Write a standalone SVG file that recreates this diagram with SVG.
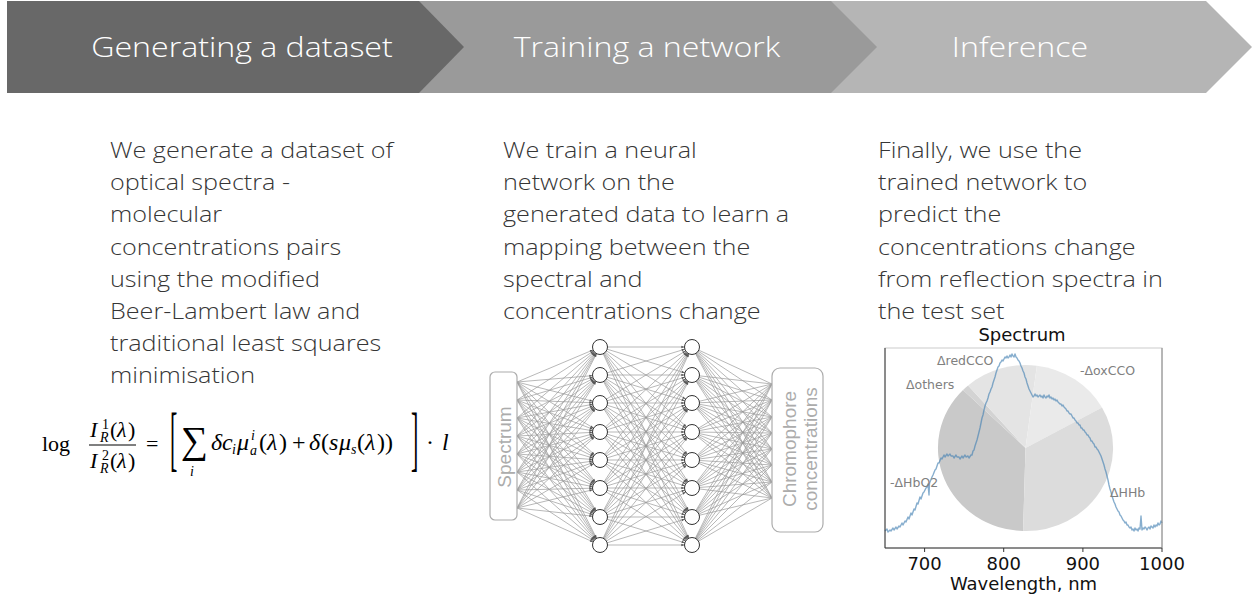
<svg xmlns="http://www.w3.org/2000/svg" width="1252" height="598" viewBox="0 0 1252 598">
<style>
.hdr{font-family:"Open Sans",sans-serif;font-weight:300;font-size:27px;fill:#ffffff;text-anchor:middle}
.body{font-family:"Open Sans",sans-serif;font-weight:300;font-size:22px;fill:#363636}
.m{font-family:"Liberation Serif",serif;font-size:24px;fill:#000}
.mi{font-family:"Liberation Serif",serif;font-size:24px;font-style:italic;fill:#000}
.ms{font-family:"Liberation Serif",serif;font-size:14px;fill:#000}
.msi{font-family:"Liberation Serif",serif;font-size:14px;font-style:italic;fill:#000}
.nn{font-family:"Liberation Sans",sans-serif;font-size:19px;fill:#acacac;text-anchor:middle}
.box{fill:#ffffff;stroke:#acacac;stroke-width:1.2}
.node{fill:#ffffff;stroke:#333333;stroke-width:1}
.ea path{stroke:#9a9a9a;stroke-width:0.7;fill:none;marker-end:url(#ah)}
.ec path{stroke:#9a9a9a;stroke-width:0.7;fill:none}
.pl{font-family:"DejaVu Sans",sans-serif;font-size:12.5px;fill:#808080}
.ax{font-family:"DejaVu Sans",sans-serif;font-size:18px;fill:#111}
</style>
<defs>
<marker id="ah" markerUnits="userSpaceOnUse" markerWidth="10" markerHeight="10" refX="7.5" refY="0" orient="auto" overflow="visible">
<path d="M-3.2,-1.2 L0,0 L-3.2,1.2 z" fill="#555555"/>
</marker>
</defs>
<rect x="0" y="0" width="1252" height="598" fill="#ffffff"/>

<g id="header">
<g id="step-inference">
<polygon points="780,1 1206,1 1252,47 1206,93 780,93" fill="#b5b5b5"/>
<text class="hdr" transform="translate(1020,57) scale(1.19,1)" x="0" y="0">Inference</text>
</g>
<g id="step-training">
<polygon points="419,1 831,1 877,47 831,93 419,93" fill="#9a9a9a"/>
<text class="hdr" transform="translate(647,57) scale(1.19,1)" x="0" y="0">Training a network</text>
</g>
<g id="step-generating">
<polygon points="7,1 419,1 464,47 419,93 7,93" fill="#686868"/>
<text class="hdr" transform="translate(242,57) scale(1.19,1)" x="0" y="0">Generating a dataset</text>
</g>
</g>

<g id="text-generating" transform="translate(110,0) scale(1.145,1)">
<text class="body" x="0" y="158">We generate a dataset of</text>
<text class="body" x="0" y="190">optical spectra -</text>
<text class="body" x="0" y="222">molecular</text>
<text class="body" x="0" y="255">concentrations pairs</text>
<text class="body" x="0" y="287">using the modified</text>
<text class="body" x="0" y="319">Beer-Lambert law and</text>
<text class="body" x="0" y="351">traditional least squares</text>
<text class="body" x="0" y="383">minimisation</text>
</g>
<g id="text-training" transform="translate(503,0) scale(1.145,1)">
<text class="body" x="0" y="158">We train a neural</text>
<text class="body" x="0" y="190">network on the</text>
<text class="body" x="0" y="222">generated data to learn a</text>
<text class="body" x="0" y="255">mapping between the</text>
<text class="body" x="0" y="287">spectral and</text>
<text class="body" x="0" y="319">concentrations change</text>
</g>
<g id="text-inference" transform="translate(878,0) scale(1.145,1)">
<text class="body" x="0" y="158">Finally, we use the</text>
<text class="body" x="0" y="190">trained network to</text>
<text class="body" x="0" y="222">predict the</text>
<text class="body" x="0" y="255">concentrations change</text>
<text class="body" x="0" y="287">from reflection spectra in</text>
<text class="body" x="0" y="319">the test set</text>
</g>

<g id="formula">
<text class="m" x="42" y="451" style="font-size:22px">log</text>
<text class="mi" x="90" y="437" style="font-size:22px">I</text>
<text class="ms" x="102" y="429">1</text>
<text class="msi" x="100" y="442">R</text>
<text class="m" x="110" y="437" style="font-size:22px">(</text>
<text class="mi" x="117" y="437" style="font-size:22px">λ</text>
<text class="m" x="128" y="437" style="font-size:22px">)</text>
<line x1="89" y1="445" x2="136" y2="445" stroke="#000" stroke-width="1"/>
<text class="mi" x="90" y="468" style="font-size:22px">I</text>
<text class="ms" x="102" y="460">2</text>
<text class="msi" x="100" y="473">R</text>
<text class="m" x="110" y="468" style="font-size:22px">(</text>
<text class="mi" x="117" y="468" style="font-size:22px">λ</text>
<text class="m" x="128" y="468" style="font-size:22px">)</text>
<text class="m" x="146" y="451" style="font-size:22px">=</text>
<text class="m" transform="translate(170,0) scale(1,3.3)" x="0" y="140" style="font-size:22px">[</text>
<text class="m" x="181" y="453" style="font-size:38px">∑</text>
<text class="msi" x="190" y="476">i</text>
<text class="mi" x="211" y="450">δ</text>
<text class="mi" x="222" y="450">c</text>
<text class="msi" x="232" y="454">i</text>
<text class="mi" x="237" y="450">μ</text>
<text class="msi" x="251" y="440">i</text>
<text class="msi" x="250" y="455">a</text>
<text class="m" x="259" y="450">(</text>
<text class="mi" x="267" y="450">λ</text>
<text class="m" x="279" y="450">)</text>
<text class="m" x="292" y="450">+</text>
<text class="mi" x="309" y="450">δ</text>
<text class="m" x="321" y="450">(</text>
<text class="mi" x="329" y="450">s</text>
<text class="mi" x="339" y="450">μ</text>
<text class="msi" x="351" y="454">s</text>
<text class="m" x="357" y="450">(</text>
<text class="mi" x="365" y="450">λ</text>
<text class="m" x="377" y="450">)</text>
<text class="m" x="385" y="450">)</text>
<text class="m" transform="translate(411,0) scale(1,3.3)" x="0" y="140" style="font-size:22px">]</text>
<text class="m" x="426" y="450">·</text>
<text class="mi" x="442" y="450">l</text>
</g>

<g id="connectors">
<g class="ea">
<path d="M517 382L600 347"/><path d="M517 382L600 375"/><path d="M517 382L600 403"/><path d="M517 382L600 432"/><path d="M517 382L600 460"/><path d="M517 382L600 488"/><path d="M517 382L600 517"/><path d="M517 382L600 545"/>
<path d="M517 400L600 347"/><path d="M517 400L600 375"/><path d="M517 400L600 403"/><path d="M517 400L600 432"/><path d="M517 400L600 460"/><path d="M517 400L600 488"/><path d="M517 400L600 517"/><path d="M517 400L600 545"/>
<path d="M517 418L600 347"/><path d="M517 418L600 375"/><path d="M517 418L600 403"/><path d="M517 418L600 432"/><path d="M517 418L600 460"/><path d="M517 418L600 488"/><path d="M517 418L600 517"/><path d="M517 418L600 545"/>
<path d="M517 436L600 347"/><path d="M517 436L600 375"/><path d="M517 436L600 403"/><path d="M517 436L600 432"/><path d="M517 436L600 460"/><path d="M517 436L600 488"/><path d="M517 436L600 517"/><path d="M517 436L600 545"/>
<path d="M517 454L600 347"/><path d="M517 454L600 375"/><path d="M517 454L600 403"/><path d="M517 454L600 432"/><path d="M517 454L600 460"/><path d="M517 454L600 488"/><path d="M517 454L600 517"/><path d="M517 454L600 545"/>
<path d="M517 472L600 347"/><path d="M517 472L600 375"/><path d="M517 472L600 403"/><path d="M517 472L600 432"/><path d="M517 472L600 460"/><path d="M517 472L600 488"/><path d="M517 472L600 517"/><path d="M517 472L600 545"/>
<path d="M517 490L600 347"/><path d="M517 490L600 375"/><path d="M517 490L600 403"/><path d="M517 490L600 432"/><path d="M517 490L600 460"/><path d="M517 490L600 488"/><path d="M517 490L600 517"/><path d="M517 490L600 545"/>
<path d="M517 508L600 347"/><path d="M517 508L600 375"/><path d="M517 508L600 403"/><path d="M517 508L600 432"/><path d="M517 508L600 460"/><path d="M517 508L600 488"/><path d="M517 508L600 517"/><path d="M517 508L600 545"/>

<path d="M600 347L692 347"/><path d="M600 347L692 375"/><path d="M600 347L692 403"/><path d="M600 347L692 432"/><path d="M600 347L692 460"/><path d="M600 347L692 488"/><path d="M600 347L692 517"/><path d="M600 347L692 545"/>
<path d="M600 375L692 347"/><path d="M600 375L692 375"/><path d="M600 375L692 403"/><path d="M600 375L692 432"/><path d="M600 375L692 460"/><path d="M600 375L692 488"/><path d="M600 375L692 517"/><path d="M600 375L692 545"/>
<path d="M600 403L692 347"/><path d="M600 403L692 375"/><path d="M600 403L692 403"/><path d="M600 403L692 432"/><path d="M600 403L692 460"/><path d="M600 403L692 488"/><path d="M600 403L692 517"/><path d="M600 403L692 545"/>
<path d="M600 432L692 347"/><path d="M600 432L692 375"/><path d="M600 432L692 403"/><path d="M600 432L692 432"/><path d="M600 432L692 460"/><path d="M600 432L692 488"/><path d="M600 432L692 517"/><path d="M600 432L692 545"/>
<path d="M600 460L692 347"/><path d="M600 460L692 375"/><path d="M600 460L692 403"/><path d="M600 460L692 432"/><path d="M600 460L692 460"/><path d="M600 460L692 488"/><path d="M600 460L692 517"/><path d="M600 460L692 545"/>
<path d="M600 488L692 347"/><path d="M600 488L692 375"/><path d="M600 488L692 403"/><path d="M600 488L692 432"/><path d="M600 488L692 460"/><path d="M600 488L692 488"/><path d="M600 488L692 517"/><path d="M600 488L692 545"/>
<path d="M600 517L692 347"/><path d="M600 517L692 375"/><path d="M600 517L692 403"/><path d="M600 517L692 432"/><path d="M600 517L692 460"/><path d="M600 517L692 488"/><path d="M600 517L692 517"/><path d="M600 517L692 545"/>
<path d="M600 545L692 347"/><path d="M600 545L692 375"/><path d="M600 545L692 403"/><path d="M600 545L692 432"/><path d="M600 545L692 460"/><path d="M600 545L692 488"/><path d="M600 545L692 517"/><path d="M600 545L692 545"/>
</g>
<g class="ec">
<path d="M692 347L772 384"/><path d="M692 347L772 400"/><path d="M692 347L772 417"/><path d="M692 347L772 433"/><path d="M692 347L772 449"/><path d="M692 347L772 465"/><path d="M692 347L772 482"/><path d="M692 347L772 498"/>
<path d="M692 375L772 384"/><path d="M692 375L772 400"/><path d="M692 375L772 417"/><path d="M692 375L772 433"/><path d="M692 375L772 449"/><path d="M692 375L772 465"/><path d="M692 375L772 482"/><path d="M692 375L772 498"/>
<path d="M692 403L772 384"/><path d="M692 403L772 400"/><path d="M692 403L772 417"/><path d="M692 403L772 433"/><path d="M692 403L772 449"/><path d="M692 403L772 465"/><path d="M692 403L772 482"/><path d="M692 403L772 498"/>
<path d="M692 432L772 384"/><path d="M692 432L772 400"/><path d="M692 432L772 417"/><path d="M692 432L772 433"/><path d="M692 432L772 449"/><path d="M692 432L772 465"/><path d="M692 432L772 482"/><path d="M692 432L772 498"/>
<path d="M692 460L772 384"/><path d="M692 460L772 400"/><path d="M692 460L772 417"/><path d="M692 460L772 433"/><path d="M692 460L772 449"/><path d="M692 460L772 465"/><path d="M692 460L772 482"/><path d="M692 460L772 498"/>
<path d="M692 488L772 384"/><path d="M692 488L772 400"/><path d="M692 488L772 417"/><path d="M692 488L772 433"/><path d="M692 488L772 449"/><path d="M692 488L772 465"/><path d="M692 488L772 482"/><path d="M692 488L772 498"/>
<path d="M692 517L772 384"/><path d="M692 517L772 400"/><path d="M692 517L772 417"/><path d="M692 517L772 433"/><path d="M692 517L772 449"/><path d="M692 517L772 465"/><path d="M692 517L772 482"/><path d="M692 517L772 498"/>
<path d="M692 545L772 384"/><path d="M692 545L772 400"/><path d="M692 545L772 417"/><path d="M692 545L772 433"/><path d="M692 545L772 449"/><path d="M692 545L772 465"/><path d="M692 545L772 482"/><path d="M692 545L772 498"/>
</g>
</g>

<g id="node-spectrum">
<rect class="box" x="490" y="372" width="27" height="148" rx="5"/>
<text class="nn" transform="translate(511,447) rotate(-90)" x="0" y="0">Spectrum</text>
</g>
<g id="node-chromophore">
<rect class="box" x="772" y="368" width="51" height="164" rx="8"/>
<text class="nn" transform="translate(796,449) rotate(-90)" x="0" y="0">Chromophore</text>
<text class="nn" transform="translate(817,449) rotate(-90)" x="0" y="0">concentrations</text>
</g>
<g id="layer1">
<g id="h1-1"><circle class="node" cx="600" cy="347" r="7.5"/></g>
<g id="h1-2"><circle class="node" cx="600" cy="375" r="7.5"/></g>
<g id="h1-3"><circle class="node" cx="600" cy="403" r="7.5"/></g>
<g id="h1-4"><circle class="node" cx="600" cy="432" r="7.5"/></g>
<g id="h1-5"><circle class="node" cx="600" cy="460" r="7.5"/></g>
<g id="h1-6"><circle class="node" cx="600" cy="488" r="7.5"/></g>
<g id="h1-7"><circle class="node" cx="600" cy="517" r="7.5"/></g>
<g id="h1-8"><circle class="node" cx="600" cy="545" r="7.5"/></g>
</g>
<g id="layer2">
<g id="h2-1"><circle class="node" cx="692" cy="347" r="7.5"/></g>
<g id="h2-2"><circle class="node" cx="692" cy="375" r="7.5"/></g>
<g id="h2-3"><circle class="node" cx="692" cy="403" r="7.5"/></g>
<g id="h2-4"><circle class="node" cx="692" cy="432" r="7.5"/></g>
<g id="h2-5"><circle class="node" cx="692" cy="460" r="7.5"/></g>
<g id="h2-6"><circle class="node" cx="692" cy="488" r="7.5"/></g>
<g id="h2-7"><circle class="node" cx="692" cy="517" r="7.5"/></g>
<g id="h2-8"><circle class="node" cx="692" cy="545" r="7.5"/></g>
</g>

<g id="spectrum-chart">
<text class="ax" x="1022" y="341" text-anchor="middle">Spectrum</text>
<rect x="885" y="348" width="277" height="200" fill="#ffffff" stroke="#cccccc" stroke-width="1"/>
<g id="pie">
<path d="M1025.5 448L1023.1 531A87.5 83 0 0 1 963 389.9Z" fill="#c9c9c9"/>
<path d="M1025.5 448L963 389.9A87.5 83 0 0 1 968.1 385.4Z" fill="#d3d3d3"/>
<path d="M1025.5 448L968.1 385.4A87.5 83 0 0 1 1036.9 365.7Z" fill="#e4e4e4"/>
<path d="M1025.5 448L1036.9 365.7A87.5 83 0 0 1 1102 407.6Z" fill="#eaeaea"/>
<path d="M1025.5 448L1102 407.6A87.5 83 0 0 1 1023.1 531Z" fill="#dcdcdc"/>
</g>
<polyline fill="none" stroke="#4682b4" stroke-opacity="0.65" stroke-width="1.4" stroke-linejoin="round" points="885,531 887,529 888,532 890,530 891,531 893,528 894,530 896,527 897,529 899,526 900,527 902,523 903,525 905,521 906,522 908,517 909,519 911,513 912,515 914,509 915,510 917,503 918,504 920,497 921,499 923,493 924,492 926,488 927,487 928,484 929,495 929.5,483 930,482 932,477 933,475 935,470 936,469 938,463 939,463 941,458 942,459 944,455 945,457 947,454 948,456 950,454 951,456 953,456 954,458 956,455 957,457 959,457 960,459 962,456 963,458 965,455 966,457 968,456 969,458 971,455 972,455 973,451 974,450 975,446 976,443 977,440 978,436 979,432 980,428 981,423 982,418 983,415 984,410 985,406 986,403 987,401 988,398 989,394 990,392 991,389 992,387 993,383 994,380 995,377 996,373 997,370 998,367 999,366 1000,363 1001,362 1002,360 1003,361 1004,359 1005,357 1006,358 1007,356 1008,358 1009,357 1010,355 1011,357 1012,354 1013,356 1014,357 1015,354 1016,357 1017,358 1018,360 1019,361 1020,363 1021,366 1022,368 1023,371 1024,373 1025,377 1026,379 1027,383 1028,386 1029,389 1030,391 1031,393 1032,395 1033,397 1034,396 1035,394 1036,396 1037,395 1038,397 1039,396 1040,395 1041,397 1042,396 1043,398 1044,395 1045,397 1046,398 1047,396 1048,397 1049,395 1050,398 1051,397 1052,399 1053,398 1054,400 1055,399 1056,401 1057,400 1058,402 1059,403 1060,404 1061,404 1062,406 1063,405 1064,407 1065,408 1066,409 1067,411 1068,411 1069,413 1070,414 1071,414 1072,416 1073,418 1074,418 1075,420 1076,421 1077,423 1078,423 1079,425 1080,425 1081,428 1082,428 1083,430 1084,430 1085,432 1086,433 1087,435 1088,435 1089,437 1090,438 1091,441 1092,441 1093,443 1094,444 1095,447 1096,447 1097,449 1098,450 1099,452 1100,454 1101,456 1102,459 1103,462 1104,465 1105,469 1106,472 1107,476 1108,480 1109,485 1110,489 1111,492 1112,496 1113,499 1114,502 1115,504 1116,507 1117,509 1118,511 1119,512 1120,515 1121,516 1122,518 1123,520 1124,521 1125,523 1126,522 1127,525 1128,525 1129,527 1130,528 1131,527 1132,530 1133,529 1134,531 1135,528 1136,530 1137,529 1138,531 1139,528 1140,529 1141,516 1142,530 1143,528 1144,529 1145,527 1146,528 1147,530 1148,528 1149,527 1150,529 1151,526 1152,527 1153,528 1154,525 1155,527 1156,525 1157,526 1158,523 1159,525 1160,524 1161,521 1162,523"/>
<text class="pl" x="937" y="365">ΔredCCO</text>
<text class="pl" x="906" y="389">Δothers</text>
<text class="pl" x="1080" y="375">-ΔoxCCO</text>
<text class="pl" x="890" y="487">-ΔHbO2</text>
<text class="pl" x="1110" y="497">ΔHHb</text>
<line x1="885" y1="348" x2="885" y2="548" stroke="#333" stroke-width="1"/>
<line x1="885" y1="548" x2="1162" y2="548" stroke="#333" stroke-width="1"/>
<line x1="1162" y1="348" x2="1162" y2="548" stroke="#888" stroke-width="1"/>
<g stroke="#333" stroke-width="1">
<line x1="924.6" y1="548" x2="924.6" y2="552"/>
<line x1="1003.7" y1="548" x2="1003.7" y2="552"/>
<line x1="1082.9" y1="548" x2="1082.9" y2="552"/>
<line x1="1162" y1="548" x2="1162" y2="552"/>
</g>
<text class="ax" x="924.6" y="570" text-anchor="middle">700</text>
<text class="ax" x="1003.7" y="570" text-anchor="middle">800</text>
<text class="ax" x="1082.9" y="570" text-anchor="middle">900</text>
<text class="ax" x="1162" y="570" text-anchor="middle">1000</text>
<text class="ax" x="1023.5" y="590" text-anchor="middle">Wavelength, nm</text>
</g>
</svg>
